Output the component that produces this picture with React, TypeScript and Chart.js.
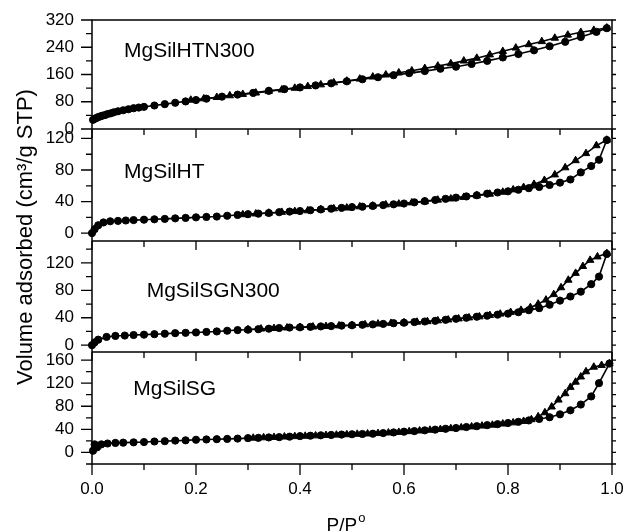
import React, { useEffect, useRef } from 'react';
import { Chart, registerables } from 'chart.js';

Chart.register(...registerables);

// ---------- data ----------
const panelNames = ['MgSilHTN300', 'MgSilHT', 'MgSilSGN300', 'MgSilSG'];
const yMins = [0, -10, -10, -20];
const yMaxs = [320, 132, 152, 174];
const yMajor1 = [0, 80, 160, 240, 320];
const yMinor1 = [40, 120, 200, 280];
const yMajor2 = [0, 40, 80, 120];
const yMinor2 = [20, 60, 100];
const yMajor3 = [0, 40, 80, 120];
const yMinor3 = [20, 60, 100, 140];
const yMajor4 = [0, 40, 80, 120, 160];
const yMinor4 = [-20, 20, 60, 100, 140];
const xMajor = [0, 0.2, 0.4, 0.6, 0.8, 1.0];
const xMinor = [0.1, 0.3, 0.5, 0.7, 0.9];

// MgSilHTN300
const ads1X = [0.002, 0.005, 0.008, 0.012, 0.016, 0.02, 0.025, 0.03, 0.036, 0.042, 0.05, 0.06, 0.07, 0.08, 0.09, 0.1, 0.12, 0.14, 0.16, 0.18, 0.2, 0.22, 0.25, 0.28, 0.31, 0.34, 0.37, 0.4, 0.43, 0.46, 0.49, 0.52, 0.55, 0.58, 0.61, 0.64, 0.67, 0.7, 0.73, 0.76, 0.79, 0.82, 0.85, 0.88, 0.91, 0.94, 0.97, 0.99];
const ads1Y = [27, 30, 32, 35, 37, 39, 41, 44, 46, 49, 52, 55, 58, 61, 63, 65, 69, 73, 77, 81, 85, 89, 95, 101, 106, 112, 117, 122, 128, 134, 140, 146, 152, 158, 164, 170, 177, 183, 191, 200, 210, 220, 231, 243, 256, 270, 285, 296];
const des1X = [0.99, 0.965, 0.94, 0.915, 0.89, 0.865, 0.84, 0.815, 0.79, 0.765, 0.74, 0.715, 0.69, 0.665, 0.64, 0.615, 0.59, 0.565, 0.54, 0.515, 0.49, 0.465, 0.44, 0.415, 0.39, 0.365, 0.34, 0.315, 0.29, 0.265, 0.24, 0.215, 0.19];
const des1Y = [297, 290, 284, 276, 267, 257, 248, 238, 228, 218, 208, 200, 192, 185, 178, 171, 165, 159, 153, 147, 141, 136, 130, 125, 120, 115, 111, 106, 102, 98, 93, 89, 85];

// MgSilHT
const ads2X = [0, 0.005, 0.012, 0.022, 0.035, 0.05, 0.065, 0.08, 0.1, 0.12, 0.14, 0.16, 0.18, 0.2, 0.22, 0.24, 0.26, 0.28, 0.3, 0.32, 0.34, 0.36, 0.38, 0.4, 0.42, 0.44, 0.46, 0.48, 0.5, 0.52, 0.54, 0.56, 0.58, 0.6, 0.62, 0.64, 0.66, 0.68, 0.7, 0.72, 0.74, 0.76, 0.78, 0.8, 0.82, 0.84, 0.86, 0.88, 0.9, 0.92, 0.94, 0.96, 0.975, 0.99];
const ads2Y = [0, 5, 10, 13.5, 15, 15.5, 16, 16.5, 17, 17.5, 18, 18.7, 19.3, 20, 20.5, 21, 22, 23, 24, 24.7, 25.5, 26.5, 27.3, 28, 29, 30, 31, 32, 33, 33.5, 34.5, 35.5, 36.5, 37.5, 39, 40.5, 42, 43.5, 45, 46.5, 48, 50, 51.5, 53, 55, 57, 58.5, 61, 64, 68, 77, 85, 93, 118];
const des2X = [0.99, 0.97, 0.95, 0.93, 0.91, 0.89, 0.87, 0.85, 0.83, 0.81, 0.79, 0.765, 0.74, 0.715, 0.69, 0.665, 0.64, 0.615, 0.59, 0.565, 0.54, 0.515, 0.49, 0.465, 0.44, 0.415, 0.39, 0.365, 0.34, 0.315, 0.29];
const des2Y = [118, 111, 101, 92, 83, 74, 67, 62, 58, 55, 52, 49.5, 47.5, 45.5, 43.5, 42, 40, 38.5, 37, 36, 34.5, 33.5, 32, 31, 30, 28.5, 27.5, 26.5, 25.5, 24.5, 23.5];

// MgSilSGN300
const ads3X = [0, 0.005, 0.012, 0.028, 0.045, 0.063, 0.08, 0.1, 0.12, 0.14, 0.16, 0.18, 0.2, 0.22, 0.24, 0.26, 0.28, 0.3, 0.32, 0.34, 0.36, 0.38, 0.4, 0.42, 0.44, 0.46, 0.48, 0.5, 0.52, 0.54, 0.56, 0.58, 0.6, 0.62, 0.64, 0.66, 0.68, 0.7, 0.72, 0.74, 0.76, 0.78, 0.8, 0.82, 0.84, 0.86, 0.88, 0.9, 0.92, 0.94, 0.96, 0.975, 0.99];
const ads3Y = [0, 4, 8, 12, 13.5, 14, 14.8, 15.3, 16, 16.7, 17.5, 18, 18.5, 19.3, 20, 21, 22, 22.5, 23.3, 24, 25, 25.7, 26, 26.7, 27.3, 27.8, 28.5, 29, 29.7, 30.3, 31, 32, 32.8, 33.7, 34.5, 35.5, 37, 38.5, 40, 41.5, 43, 44.5, 46, 48, 51, 54, 59, 65, 71, 78, 89, 100, 133];
const des3X = [0.99, 0.972, 0.958, 0.944, 0.93, 0.916, 0.902, 0.888, 0.873, 0.858, 0.843, 0.825, 0.805, 0.785, 0.765, 0.745, 0.725, 0.705, 0.685, 0.665, 0.645, 0.625, 0.6, 0.575, 0.55, 0.525, 0.5, 0.475, 0.45, 0.425, 0.4, 0.375, 0.35, 0.325, 0.3];
const des3Y = [134, 129, 124, 115, 105, 95, 84, 74, 66, 60, 55, 51, 48, 45.5, 43.5, 41.5, 40, 38.5, 37, 35.7, 34.5, 33.7, 32.8, 32, 31, 30, 29, 28.3, 27.5, 26.7, 26, 25.3, 24.5, 23.7, 22.8];

// MgSilSG
const ads4X = [0.002, 0.005, 0.01, 0.018, 0.03, 0.045, 0.06, 0.08, 0.1, 0.12, 0.14, 0.16, 0.18, 0.2, 0.22, 0.24, 0.26, 0.28, 0.3, 0.32, 0.34, 0.36, 0.38, 0.4, 0.42, 0.44, 0.46, 0.48, 0.5, 0.52, 0.54, 0.56, 0.58, 0.6, 0.62, 0.64, 0.66, 0.68, 0.7, 0.72, 0.74, 0.76, 0.78, 0.8, 0.82, 0.84, 0.86, 0.88, 0.9, 0.92, 0.94, 0.96, 0.975, 0.995];
const ads4Y = [3, 14, 9, 14, 15.5, 16.5, 17, 17.5, 18, 19, 19.5, 20.5, 21, 22, 22.5, 23, 23.5, 24, 24.8, 25.3, 26, 26.5, 27.3, 28.3, 29, 29.7, 30.3, 31, 31.5, 32, 32.5, 33.5, 34.7, 36, 37, 38.3, 39.5, 41, 42.3, 44, 45.5, 47.3, 49, 51, 53, 55.5, 58, 61, 66, 73, 83, 97, 120, 154];
const des4X = [0.995, 0.98, 0.965, 0.95, 0.94, 0.93, 0.92, 0.91, 0.897, 0.884, 0.871, 0.858, 0.845, 0.83, 0.81, 0.79, 0.77, 0.75, 0.73, 0.71, 0.69, 0.67, 0.65, 0.63, 0.61, 0.59, 0.57, 0.55, 0.53, 0.51, 0.49, 0.47, 0.45, 0.43, 0.41, 0.39, 0.37, 0.35, 0.33, 0.31];
const des4Y = [154, 151, 148, 140, 131, 122, 113, 102, 91, 79, 69, 62, 57, 54, 51.5, 49.5, 47.5, 46, 44.5, 43, 41.5, 40, 38.7, 37.5, 36.3, 35, 34, 33, 32.3, 31.7, 31, 30.3, 29.7, 29, 28.3, 27.7, 27, 26.3, 25.7, 25];

const yTitle = 'Volume adsorbed (cm\u00B3/g STP)';
const xTitleMain = 'P/P';
const xTitleSup = 'o';

// ---------- layout / style ----------
const FONT = '"Liberation Sans", Arial, Helvetica, sans-serif';
const W = 625;
const H = 532;

const zip = (xs: number[], ys: number[]) => xs.map((x, i) => ({ x, y: ys[i] }));

export default function App() {
  const ref = useRef<HTMLCanvasElement>(null);

  useEffect(() => {
    const canvas = ref.current;
    if (!canvas) return;

    const panels = [
      { id: 'y1', name: panelNames[0], min: yMins[0], max: yMaxs[0], major: yMajor1, minor: yMinor1, ads: zip(ads1X, ads1Y), des: zip(des1X, des1Y), h: 109, lx: 32, ly: 36.7 },
      { id: 'y2', name: panelNames[1], min: yMins[1], max: yMaxs[1], major: yMajor2, minor: yMinor2, ads: zip(ads2X, ads2Y), des: zip(des2X, des2Y), h: 112, lx: 32, ly: 49.3 },
      { id: 'y3', name: panelNames[2], min: yMins[2], max: yMaxs[2], major: yMajor3, minor: yMinor3, ads: zip(ads3X, ads3Y), des: zip(des3X, des3Y), h: 111, lx: 54.7, ly: 56.3 },
      { id: 'y4', name: panelNames[3], min: yMins[3], max: yMaxs[3], major: yMajor4, minor: yMinor4, ads: zip(ads4X, ads4Y), des: zip(des4X, des4Y), h: 112, lx: 41.3, ly: 43 },
    ];

    const zeroPad = (s: any) => {
      s.paddingTop = 0;
      s.paddingBottom = 0;
      s.paddingLeft = 0;
      s.paddingRight = 0;
    };

    const scales: any = {
      x: {
        type: 'linear',
        position: 'bottom',
        min: 0,
        max: 1,
        grid: { display: false, drawTicks: false },
        border: { display: false },
        afterBuildTicks: (s: any) => {
          s.ticks = xMajor.map((v) => ({ value: v }));
        },
        afterFit: (s: any) => {
          s.height = 68;
          zeroPad(s);
        },
        ticks: {
          autoSkip: false,
          maxRotation: 0,
          padding: 15,
          color: '#000',
          font: { family: FONT, size: 17 },
          callback: (v: any) => Number(v).toFixed(1),
        },
      },
    };

    panels.forEach((p, i) => {
      scales[p.id] = {
        type: 'linear',
        position: 'left',
        stack: 'panels',
        stackWeight: p.h,
        weight: 4 - i,
        min: p.min,
        max: p.max,
        grid: { display: false, drawTicks: false },
        border: { display: false },
        afterBuildTicks: (s: any) => {
          s.ticks = p.major.map((v) => ({ value: v }));
        },
        afterFit: (s: any) => {
          s.width = 92;
          zeroPad(s);
        },
        ticks: {
          autoSkip: false,
          padding: 18,
          color: '#000',
          font: { family: FONT, size: 17 },
          callback: (v: any) => String(v),
        },
      };
    });

    const datasets: any[] = [];
    panels.forEach((p) => {
      datasets.push({
        label: p.name + ' adsorption',
        data: p.ads,
        xAxisID: 'x',
        yAxisID: p.id,
        borderColor: '#000',
        backgroundColor: '#000',
        borderWidth: 1.6,
        pointStyle: 'circle',
        pointRadius: 3.6,
        pointBorderWidth: 1,
        pointBorderColor: '#000',
        pointBackgroundColor: '#000',
        showLine: true,
        tension: 0,
        fill: false,
        clip: 8,
      });
      datasets.push({
        label: p.name + ' desorption',
        data: p.des,
        xAxisID: 'x',
        yAxisID: p.id,
        borderColor: '#000',
        backgroundColor: '#000',
        borderWidth: 1.6,
        pointStyle: 'triangle',
        pointRadius: 4.3,
        pointBorderWidth: 1,
        pointBorderColor: '#000',
        pointBackgroundColor: '#000',
        showLine: true,
        tension: 0,
        fill: false,
        clip: 8,
      });
    });

    const framePlugin = {
      id: 'framePlugin',
      afterDraw(chart: any) {
        const { ctx, chartArea: a, scales: sc } = chart;
        const xs = sc.x;
        ctx.save();
        ctx.strokeStyle = '#000';
        ctx.fillStyle = '#000';

        // outer frame
        ctx.lineWidth = 1.5;
        ctx.strokeRect(a.left, a.top, a.right - a.left, a.bottom - a.top);

        ctx.lineWidth = 1.3;
        panels.forEach((p, i) => {
          const s = sc[p.id];
          ctx.beginPath();
          if (i > 0) {
            ctx.moveTo(a.left, s.top);
            ctx.lineTo(a.right, s.top);
            xMajor.forEach((v) => {
              const px = xs.getPixelForValue(v);
              ctx.moveTo(px, s.top);
              ctx.lineTo(px, s.top + 9);
            });
            xMinor.forEach((v) => {
              const px = xs.getPixelForValue(v);
              ctx.moveTo(px, s.top);
              ctx.lineTo(px, s.top + 6);
            });
          }
          p.major.forEach((v) => {
            const py = s.getPixelForValue(v);
            ctx.moveTo(a.left - 11, py);
            ctx.lineTo(a.left, py);
            ctx.moveTo(a.right, py);
            ctx.lineTo(a.right + 4, py);
          });
          p.minor.forEach((v) => {
            const py = s.getPixelForValue(v);
            ctx.moveTo(a.left - 6, py);
            ctx.lineTo(a.left, py);
            ctx.moveTo(a.right, py);
            ctx.lineTo(a.right + 4, py);
          });
          ctx.stroke();

          ctx.font = `21px ${FONT}`;
          ctx.textAlign = 'left';
          ctx.textBaseline = 'alphabetic';
          ctx.fillText(p.name, a.left + p.lx, s.top + p.ly);
        });

        ctx.beginPath();
        xMajor.forEach((v) => {
          const px = xs.getPixelForValue(v);
          ctx.moveTo(px, a.bottom);
          ctx.lineTo(px, a.bottom + 11);
        });
        xMinor.forEach((v) => {
          const px = xs.getPixelForValue(v);
          ctx.moveTo(px, a.bottom);
          ctx.lineTo(px, a.bottom + 6);
        });
        ctx.stroke();

        // y title
        ctx.save();
        ctx.translate(26, (a.top + a.bottom) / 2 - 5);
        ctx.rotate(-Math.PI / 2);
        ctx.font = `22px ${FONT}`;
        ctx.textAlign = 'center';
        ctx.textBaseline = 'middle';
        ctx.fillText(yTitle, 0, 0);
        ctx.restore();

        // x title with superscript
        ctx.font = `19px ${FONT}`;
        const wMain = ctx.measureText(xTitleMain).width;
        ctx.font = `13px ${FONT}`;
        const wSup = ctx.measureText(xTitleSup).width;
        const cx = (a.left + a.right) / 2 - 6;
        const left = cx - (wMain + wSup + 1) / 2;
        ctx.textAlign = 'left';
        ctx.textBaseline = 'alphabetic';
        ctx.font = `19px ${FONT}`;
        ctx.fillText(xTitleMain, left, 531);
        ctx.font = `13px ${FONT}`;
        ctx.fillText(xTitleSup, left + wMain + 1, 522);

        ctx.restore();
      },
    };

    const chart = new Chart(canvas, {
      type: 'line',
      data: { datasets },
      options: {
        responsive: false,
        maintainAspectRatio: false,
        animation: false,
        layout: { padding: { left: 0, right: 13, top: 20, bottom: 0 } },
        plugins: {
          legend: { display: false },
          tooltip: { enabled: false },
        },
        scales,
      },
      plugins: [framePlugin],
    } as any);

    return () => chart.destroy();
  }, []);

  return (
    <div style={{ position: 'fixed', left: 0, top: 0, width: W, height: H, background: '#fff' }}>
      <canvas ref={ref} width={W} height={H} style={{ display: 'block', width: W, height: H }} />
    </div>
  );
}
